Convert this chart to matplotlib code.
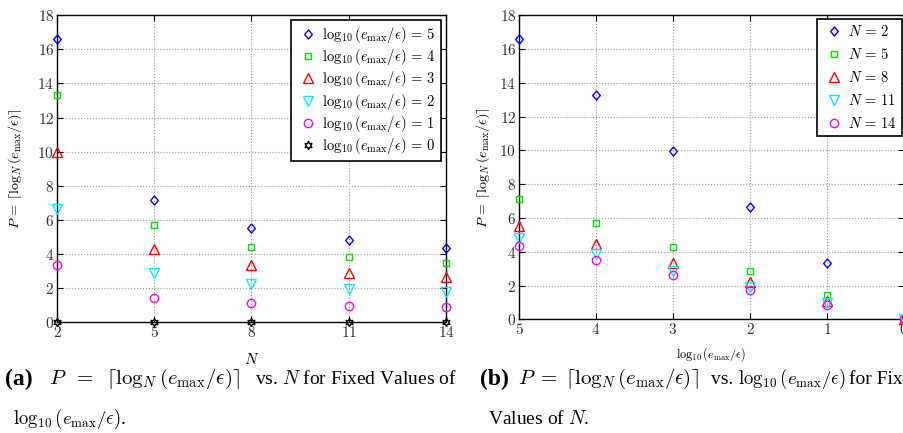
import numpy as np
import matplotlib
matplotlib.use("Agg")
import matplotlib.pyplot as plt
from matplotlib.path import Path

plt.rcParams.update({
    "font.family": "cmr10",
    "mathtext.fontset": "cm",
    "axes.formatter.use_mathtext": True,
    "font.size": 11,
    "axes.linewidth": 1.0,
    "xtick.direction": "in", "ytick.direction": "in",
    "xtick.top": True, "ytick.right": True,
    "xtick.major.size": 4, "ytick.major.size": 4,
})

# data
N_vals = [2, 5, 8, 11, 14]
k_vals = [5, 4, 3, 2, 1, 0]
P_k5 = [16.6, 7.15, 5.54, 4.80, 4.36]
P_k4 = [13.3, 5.72, 4.43, 3.84, 3.49]
P_k3 = [9.97, 4.29, 3.32, 2.88, 2.62]
P_k2 = [6.64, 2.86, 2.21, 1.92, 1.75]
P_k1 = [3.32, 1.43, 1.11, 0.96, 0.87]
P_k0 = [0.0, 0.0, 0.0, 0.0, 0.0]

diamond = Path([(0, 1), (0.85, 0), (0, -1), (-0.85, 0), (0, 1)],
               [Path.MOVETO, Path.LINETO, Path.LINETO, Path.LINETO, Path.CLOSEPOLY])
styles = [
    (diamond, "#0000ff", 6.5),
    ("s", "#00e000", 4.5),
    ("^", "#ff0000", 6.5),
    ("v", "#00eeff", 6.5),
    ("o", "#ff00ff", 6),
    ((6, 1, 0), "#000000", 6),
]
rows = [P_k5, P_k4, P_k3, P_k2, P_k1, P_k0]

W, H = 904, 433
fig = plt.figure(figsize=(W / 100, H / 100), dpi=100)

def ax_box(l, r, t, b):
    return [l / W, 1 - b / H, (r - l) / W, (b - t) / H]

def style_axes(ax):
    ax.set_ylim(0, 18)
    ax.set_yticks(range(0, 19, 2))
    ax.grid(True, ls=":", color="#9a9a9a", lw=0.8)
    ax.tick_params(pad=2, labelsize=11, width=0.8)
    for t in ax.get_xticklabels() + ax.get_yticklabels():
        t.set_color("#333333")

def add_legend(ax, anchor, spacing):
    leg = ax.legend(loc="upper right", bbox_to_anchor=anchor, fontsize=10.5,
                    numpoints=1, handlelength=1.6, handletextpad=0.2,
                    labelspacing=spacing, borderpad=0.35, borderaxespad=0,
                    fancybox=False, edgecolor="black", framealpha=1)
    leg.get_frame().set_linewidth(1.2)
    return leg

ylab = r"$P\,=\,\lceil\log_N(e_{\max}/\epsilon)\rceil$"

# (a) P vs N
ax1 = fig.add_axes(ax_box(57, 446, 15.3, 322))
for k, vals, (m, c, ms) in zip(k_vals, rows, styles):
    ax1.plot(N_vals, vals, ls="none", marker=m, ms=ms, mfc="none", mec=c, mew=1.0,
             clip_on=False, zorder=3,
             label=r"$\log_{10}(e_{\max}/\epsilon)\,=\,%d$" % k)
ax1.set_xlim(2, 14)
ax1.set_xticks(N_vals)
style_axes(ax1)
ax1.set_xlabel(r"$N$", fontsize=11, va="top")
ax1.xaxis.set_label_coords(0.5, -0.098)
ax1.set_ylabel(ylab, fontsize=10.2)
ax1.yaxis.set_label_coords(-0.085, 0.5)
add_legend(ax1, ((441 - 57) / 389, (322 - 20) / 306.7), 0.15)

# (b) P vs log10(emax/eps)
ax2 = fig.add_axes(ax_box(519, 904, 15.3, 319.3))
cols = list(zip(*rows))  # one series per N across k
for n, vals, (m, c, ms) in zip(N_vals, cols, styles[:5]):
    ax2.plot(k_vals, vals, ls="none", marker=m, ms=ms, mfc="none", mec=c, mew=1.0,
             clip_on=False, zorder=3, label=r"$N\,=\,%d$" % n)
ax2.set_xlim(5, 0)
ax2.set_xticks(k_vals)
style_axes(ax2)
ax2.set_xlabel(r"$\log_{10}(e_{\max}/\epsilon)$", fontsize=8.7, va="top")
ax2.xaxis.set_label_coords(0.5, -0.085)
ax2.set_ylabel(ylab, fontsize=10.2)
ax2.yaxis.set_label_coords(-0.07, 0.5)
add_legend(ax2, ((902 - 519) / 385, (319.3 - 19) / 304), 0.55)

# captions
cap = dict(family="Liberation Serif", fontsize=14, va="center", ha="left")
y1, y2 = 1 - 379 / H, 1 - 419 / H
ceil_txt = r"$P\;=\;\lceil\log_N(e_{\max}/\epsilon)\rceil$"
log_txt = r"$\log_{10}(e_{\max}/\epsilon)$"
fig.text(5 / W, y1, "(a)", **{**cap, "fontsize": 17, "fontweight": "bold"})
fig.text(49 / W, y1, r"$P\;\;=\;\;\lceil\log_N(e_{\max}/\epsilon)\rceil$", **{**cap, "fontsize": 15})
fig.text(255 / W, y1, r"vs. $N$ for Fixed Values of", **cap)
fig.text(13 / W, y2, log_txt + ".", **{**cap, "fontsize": 13.5})
fig.text(480 / W, y1, "(b)", **{**cap, "fontsize": 17, "fontweight": "bold"})
fig.text(518 / W, y1, ceil_txt, **{**cap, "fontsize": 15})
fig.text(711 / W, y1, "vs.", **cap)
fig.text(738 / W, y1, log_txt, **{**cap, "fontsize": 13.5})
fig.text(849 / W, y1, "for Fixed", **cap)
fig.text(488 / W, y2, r"Values of $N$.", **cap)

fig.savefig("out.png", dpi=100)
